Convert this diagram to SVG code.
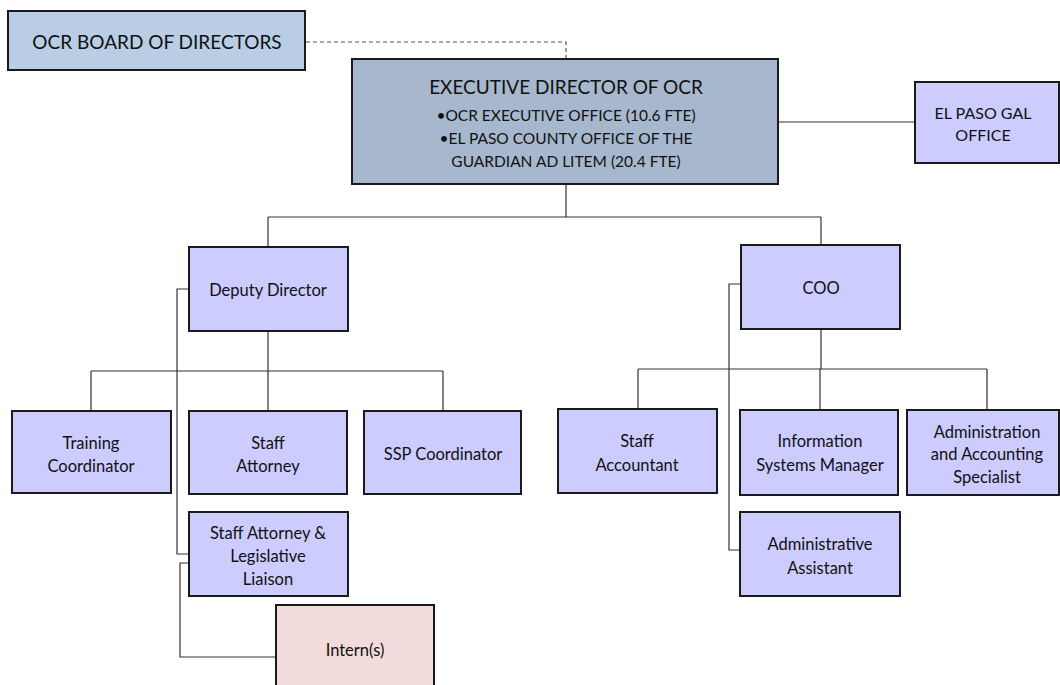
<svg xmlns="http://www.w3.org/2000/svg" width="1060" height="685" viewBox="0 0 1060 685">
<style>
.box{stroke:#1a1a1a;stroke-width:2}
.lav{fill:#ccccff}
.t{font-family:Lato,"Liberation Sans",sans-serif;fill:#111;text-anchor:middle}
.m{font-size:16.5px}
.c{fill:none;stroke:#333;stroke-width:1.2}
.d{fill:none;stroke:#555;stroke-width:1.2;stroke-dasharray:4 3}
</style>
<rect width="1060" height="685" fill="#ffffff"/>
<g id="connectors">
<path class="d" d="M306,42 H566 V59"/>
<path class="c" d="M778,122 H915"/>
<path class="c" d="M566,184 V217 M268,217 H821 M268,217 V247 M821,217 V245"/>
<path class="c" d="M268,331 V371 M91,371 H443 M91,371 V411 M268,371 V411 M443,371 V411"/>
<path class="c" d="M189,289 H177 V554 H189"/>
<path class="c" d="M189,563 H180 V657 H276"/>
<path class="c" d="M821,329 V369 M638,369 H987 M638,369 V409 M820,369 V410 M987,369 V410"/>
<path class="c" d="M741,284 H729 V550 H740"/>
</g>
<g id="board">
<rect class="box" x="8" y="11" width="297" height="59" fill="#b9cde5"/>
<text class="t" x="157" y="49" font-size="19">OCR BOARD OF DIRECTORS</text>
</g>
<g id="exec">
<rect class="box" x="352" y="59" width="426" height="125" fill="#a7b7cd"/>
<text class="t" x="566" y="94" font-size="19">EXECUTIVE DIRECTOR OF OCR</text>
<text class="t" x="566" y="121" font-size="15.5">•OCR EXECUTIVE OFFICE (10.6 FTE)</text>
<text class="t" x="566" y="144" font-size="15.5">•EL PASO COUNTY OFFICE OF THE</text>
<text class="t" x="566" y="167" font-size="15.5">GUARDIAN AD LITEM (20.4 FTE)</text>
</g>
<g id="gal">
<rect class="box lav" x="915" y="82" width="144" height="81"/>
<text class="t" x="983" y="119" font-size="16">EL PASO GAL</text>
<text class="t" x="983" y="141" font-size="16">OFFICE</text>
</g>
<g id="deputy">
<rect class="box lav" x="189" y="247" width="159" height="84"/>
<text class="t m" x="268" y="296">Deputy Director</text>
</g>
<g id="coo">
<rect class="box lav" x="741" y="245" width="159" height="84"/>
<text class="t m" x="821" y="294">COO</text>
</g>
<g id="training">
<rect class="box lav" x="12" y="411" width="159" height="82"/>
<text class="t m" x="91" y="449">Training</text>
<text class="t m" x="91" y="472">Coordinator</text>
</g>
<g id="staff-attorney">
<rect class="box lav" x="189" y="411" width="158" height="83"/>
<text class="t m" x="268" y="449">Staff</text>
<text class="t m" x="268" y="472">Attorney</text>
</g>
<g id="ssp">
<rect class="box lav" x="364" y="411" width="157" height="83"/>
<text class="t m" x="443" y="460">SSP Coordinator</text>
</g>
<g id="staff-attorney-leg">
<rect class="box lav" x="189" y="512" width="159" height="84"/>
<text class="t m" x="268" y="539">Staff Attorney &amp;</text>
<text class="t m" x="268" y="562">Legislative</text>
<text class="t m" x="268" y="585">Liaison</text>
</g>
<g id="intern">
<rect class="box" x="276" y="605" width="158" height="90" fill="#f2dcdb"/>
<text class="t m" x="355" y="656">Intern(s)</text>
</g>
<g id="staff-accountant">
<rect class="box lav" x="558" y="409" width="159" height="84"/>
<text class="t m" x="637" y="447">Staff</text>
<text class="t m" x="637" y="471">Accountant</text>
</g>
<g id="info-sys">
<rect class="box lav" x="740" y="410" width="158" height="85"/>
<text class="t m" x="820" y="447">Information</text>
<text class="t m" x="820" y="471">Systems Manager</text>
</g>
<g id="admin-acc">
<rect class="box lav" x="907" y="410" width="152" height="85"/>
<text class="t m" x="987" y="438">Administration</text>
<text class="t m" x="987" y="460">and Accounting</text>
<text class="t m" x="987" y="483">Specialist</text>
</g>
<g id="admin-asst">
<rect class="box lav" x="740" y="512" width="160" height="84"/>
<text class="t m" x="820" y="550">Administrative</text>
<text class="t m" x="820" y="574">Assistant</text>
</g>
</svg>
